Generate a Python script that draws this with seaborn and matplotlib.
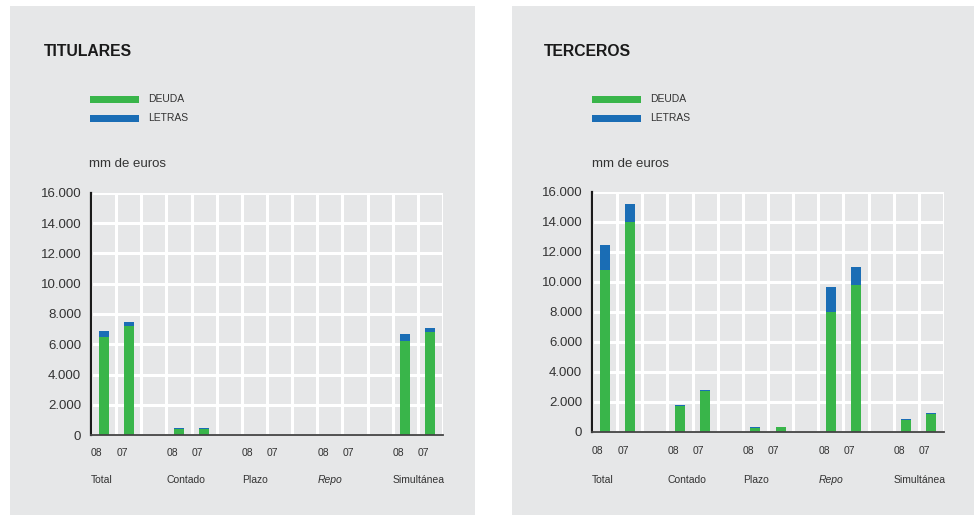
import matplotlib
matplotlib.use("Agg")
import matplotlib.pyplot as plt
from matplotlib.patches import Rectangle
from matplotlib.ticker import FuncFormatter, MultipleLocator
import seaborn as sns
import pandas as pd

# ---- data ----
groups = ["Total", "Contado", "Plazo", "Repo", "Simultánea"]
years = ["08", "07"]
panel_titles = ["TITULARES", "TERCEROS"]
legend_labels = ["DEUDA", "LETRAS"]
y_label = "mm de euros"

# order: Total08, Total07, Contado08, Contado07, Plazo08, Plazo07, Repo08, Repo07, Simul08, Simul07
tit_deuda = [6500, 7200, 370, 400, 30, 30, 0, 0, 6200, 6800]
tit_letras = [350, 300, 90, 80, 0, 0, 0, 0, 450, 300]
ter_deuda = [10780, 13980, 1750, 2730, 290, 310, 8000, 9780, 820, 1220]
ter_letras = [1670, 1220, 50, 50, 20, 20, 1650, 1200, 30, 30]

GREEN = "#39B54A"
BLUE = "#1A6DB5"
PANEL = "#E6E7E8"
TXT = "#333333"

sns.set_theme(style="white")
plt.rcParams["font.family"] = ["Liberation Sans", "DejaVu Sans"]

W, H = 974, 515
fig = plt.figure(figsize=(W / 100, H / 100), dpi=100)
fig.patch.set_facecolor("white")


def px(x0, y0, w, h):
    """pixel rect (top-left origin) -> figure fraction"""
    return [x0 / W, 1 - (y0 + h) / H, w / W, h / H]


def build_df(deuda, letras):
    rows = []
    k = 0
    for gi, g in enumerate(groups):
        for yi, y in enumerate(years):
            slot = gi * 3 + yi
            rows.append(dict(group=g, year=y, slot=slot, pos=slot + 0.5,
                             deuda=deuda[k], letras=letras[k],
                             total=deuda[k] + letras[k]))
            k += 1
    return pd.DataFrame(rows)


panels = [
    dict(rect=(10, 6, 465, 509), ax=(91, 193, 352, 242), title_x=44,
         leg_x=90, data=(tit_deuda, tit_letras), yr_y=453, grp_y=480, ytxt_x=89),
    dict(rect=(512, 6, 462, 509), ax=(592, 192, 352, 240), title_x=544,
         leg_x=592, data=(ter_deuda, ter_letras), yr_y=451, grp_y=480, ytxt_x=592),
]

for p, title in zip(panels, panel_titles):
    rx, ry, rw, rh = p["rect"]
    fig.patches.append(Rectangle((rx / W, 1 - (ry + rh) / H), rw / W, rh / H,
                                 transform=fig.transFigure, facecolor=PANEL,
                                 edgecolor="none", zorder=-5))
    # title
    fig.text(p["title_x"] / W, 1 - 52 / H, title, fontsize=11.3, fontweight="bold",
             color="#1a1a1a", va="center", ha="left")
    # legend
    for i, (lab, col) in enumerate(zip(legend_labels, [GREEN, BLUE])):
        yc = 99 + i * 19
        fig.patches.append(Rectangle((p["leg_x"] / W, 1 - (yc + 3.5) / H), 49 / W, 7 / H,
                                     transform=fig.transFigure, facecolor=col,
                                     edgecolor="none", zorder=1))
        fig.text((p["leg_x"] + 58) / W, 1 - yc / H, lab, fontsize=7.5, color=TXT,
                 va="center", ha="left")
    fig.text(p["ytxt_x"] / W, 1 - 164 / H, y_label, fontsize=9.5, color=TXT,
             va="center", ha="left")

    ax = fig.add_axes(px(*p["ax"]))
    ax.set_facecolor(PANEL)
    df = build_df(*p["data"])
    sns.barplot(data=df, x="pos", y="total", native_scale=True, width=0.4,
                color=BLUE, saturation=1, linewidth=0, ax=ax, zorder=3)
    sns.barplot(data=df, x="pos", y="deuda", native_scale=True, width=0.4,
                color=GREEN, saturation=1, linewidth=0, ax=ax, zorder=4)
    ax.set_xlim(0, 14)
    ax.set_ylim(0, 16000)
    ax.set_xlabel("")
    ax.set_ylabel("")
    ax.yaxis.set_major_locator(MultipleLocator(2000))
    ax.yaxis.set_major_formatter(FuncFormatter(lambda v, _: f"{int(v):,}".replace(",", ".")))
    ax.set_xticks(range(0, 15))
    ax.set_xticklabels([])
    ax.tick_params(axis="both", length=0)
    ax.tick_params(axis="y", pad=7, labelsize=9.5, labelcolor=TXT)
    ax.grid(True, color="white", linewidth=2.2, zorder=1)
    ax.set_axisbelow(True)
    for s in ["top", "right"]:
        ax.spines[s].set_visible(False)
    ax.spines["left"].set_color("#1a1a1a")
    ax.spines["left"].set_linewidth(1.6)
    ax.spines["bottom"].set_color("#444444")
    ax.spines["bottom"].set_linewidth(1.3)
    for s in ["left", "bottom"]:
        ax.spines[s].set_zorder(5)

    # year labels and group labels
    for _, r in df.iterrows():
        ax.annotate(r["year"], xy=(r["slot"], H - p["yr_y"]),
                    xycoords=("data", "figure pixels"), fontsize=7.5, color=TXT,
                    ha="left", va="center", annotation_clip=False)
    for gi, g in enumerate(groups):
        ax.annotate(g, xy=(gi * 3, H - p["grp_y"]), xycoords=("data", "figure pixels"),
                    fontsize=7.5, color=TXT, ha="left", va="center",
                    style="italic" if g == "Repo" else "normal", annotation_clip=False)

fig.savefig("out.png", dpi=100, facecolor=fig.get_facecolor())
